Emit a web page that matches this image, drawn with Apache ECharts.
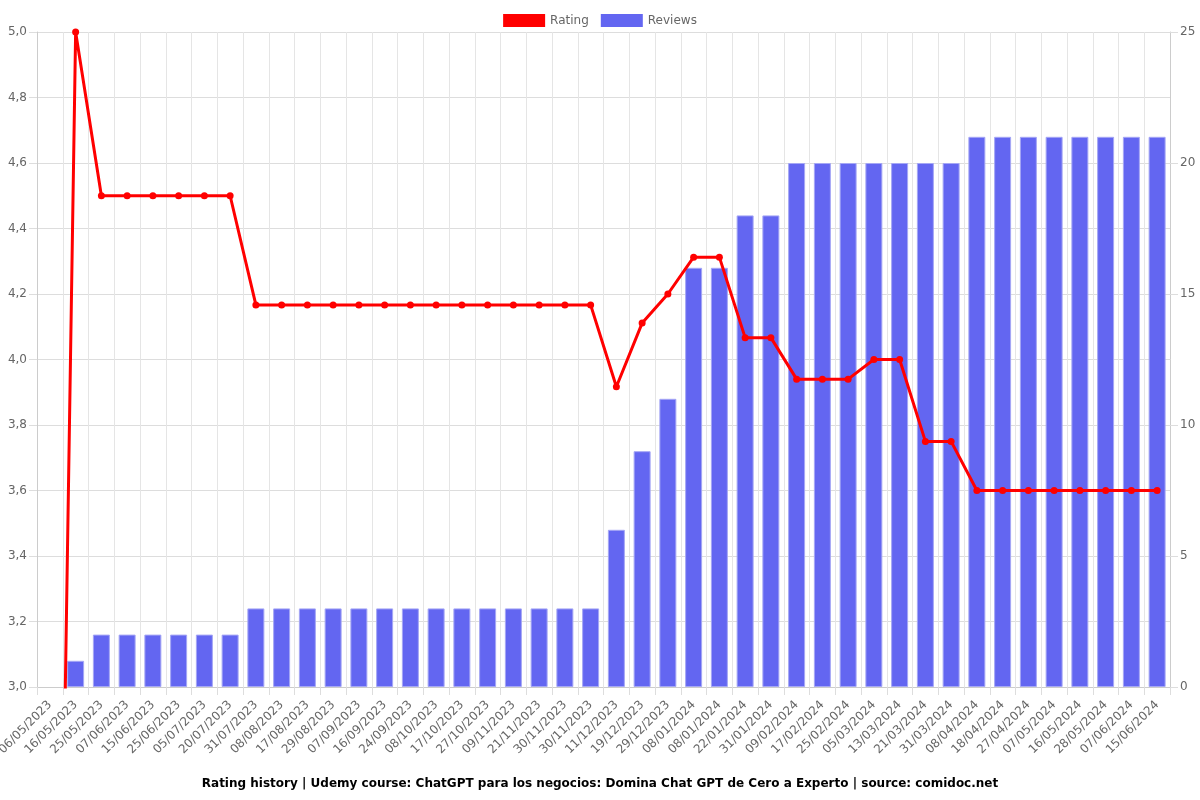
<!DOCTYPE html>
<html>
<head>
<meta charset="utf-8">
<script src="https://cdn.jsdelivr.net/npm/echarts@6/dist/echarts.min.js"></script>
<style>html,body{margin:0;padding:0;background:#fff}#c{width:1200px;height:800px}</style>
</head>
<body>
<div id="c"></div>
<script>
const categories = ["06/05/2023","16/05/2023","25/05/2023","07/06/2023","15/06/2023","25/06/2023","05/07/2023","20/07/2023","31/07/2023","08/08/2023","17/08/2023","29/08/2023","07/09/2023","16/09/2023","24/09/2023","08/10/2023","17/10/2023","27/10/2023","09/11/2023","21/11/2023","30/11/2023","30/11/2023","11/12/2023","19/12/2023","29/12/2023","08/01/2024","08/01/2024","22/01/2024","31/01/2024","09/02/2024","17/02/2024","25/02/2024","05/03/2024","13/03/2024","21/03/2024","31/03/2024","08/04/2024","18/04/2024","27/04/2024","07/05/2024","16/05/2024","28/05/2024","07/06/2024","15/06/2024"];
const rating = [0,5.0,4.5,4.5,4.5,4.5,4.5,4.5,4.1667,4.1667,4.1667,4.1667,4.1667,4.1667,4.1667,4.1667,4.1667,4.1667,4.1667,4.1667,4.1667,4.1667,3.9167,4.1111,4.2,4.3125,4.3125,4.0667,4.0667,3.94,3.94,3.94,4.0,4.0,3.75,3.75,3.6,3.6,3.6,3.6,3.6,3.6,3.6,3.6];
const reviews = [0,1,2,2,2,2,2,2,3,3,3,3,3,3,3,3,3,3,3,3,3,3,6,9,11,16,16,18,18,20,20,20,20,20,20,20,21,21,21,21,21,21,21,21];
const titleText = "Rating history | Udemy course: ChatGPT para los negocios: Domina Chat GPT de Cero a Experto | source: comidoc.net";

const chart = echarts.init(document.getElementById('c'));
const font = 'DejaVu Sans';
chart.setOption({
  animation: false,
  textStyle: {fontFamily: font},
  title: {
    text: titleText, left: 'center', top: 773,
    textStyle: {fontFamily: font, fontSize: 12, fontWeight: 'bold', color: '#000'}
  },
  legend: {
    top: 9, left: 'center', itemWidth: 42, itemHeight: 13, itemGap: 12,
    textStyle: {fontFamily: font, fontSize: 12, color: '#666'},
    data: [
      {name: 'Rating', icon: 'rect', itemStyle: {color: '#ff0000', borderWidth: 0}},
      {name: 'Reviews', icon: 'rect', itemStyle: {color: '#6366f1', borderWidth: 0}}
    ]
  },
  grid: {left: 37, right: 30, top: 32, bottom: 113, containLabel: false, outerBoundsMode: 'none'},
  xAxis: {
    type: 'category', data: categories, boundaryGap: true,
    axisLine: {lineStyle: {color: '#ccc'}},
    axisTick: {show: true, alignWithLabel: false, length: 8, lineStyle: {color: '#ddd'}},
    splitLine: {show: true, interval: 0, lineStyle: {color: '#e5e5e5'}},
    axisLabel: {interval: 0, rotate: 45, color: '#666', fontSize: 12, fontFamily: font, margin: 16}
  },
  yAxis: [
    {
      type: 'value', min: 3, max: 5, interval: 0.2, position: 'left',
      axisLine: {show: true, lineStyle: {color: '#ccc'}},
      axisTick: {show: true, length: 8, lineStyle: {color: '#ddd'}},
      splitLine: {show: true, lineStyle: {color: '#ddd'}},
      axisLabel: {color: '#666', fontSize: 12, fontFamily: font, margin: 10,
        formatter: v => v.toFixed(1).replace('.', ',')}
    },
    {
      type: 'value', min: 0, max: 25, interval: 5, position: 'right',
      axisLine: {show: true, lineStyle: {color: '#ccc'}},
      axisTick: {show: true, length: 8, lineStyle: {color: '#ddd'}},
      splitLine: {show: false},
      axisLabel: {color: '#666', fontSize: 12, fontFamily: font, margin: 10}
    }
  ],
  series: [
    {
      name: 'Rating', type: 'line', yAxisIndex: 0, data: rating, z: 3,
      clip: true, symbol: 'circle', symbolSize: 7, showAllSymbol: true,
      lineStyle: {color: '#ff0000', width: 3},
      itemStyle: {color: '#ff0000'}
    },
    {
      name: 'Reviews', type: 'bar', yAxisIndex: 1, z: 2,
      data: reviews.map(v => v === 0 ? null : v),
      barWidth: '66%',
      itemStyle: {color: '#6366f1', borderColor: '#a5a7f5', borderWidth: 1}
    }
  ]
});
</script>
</body>
</html>
